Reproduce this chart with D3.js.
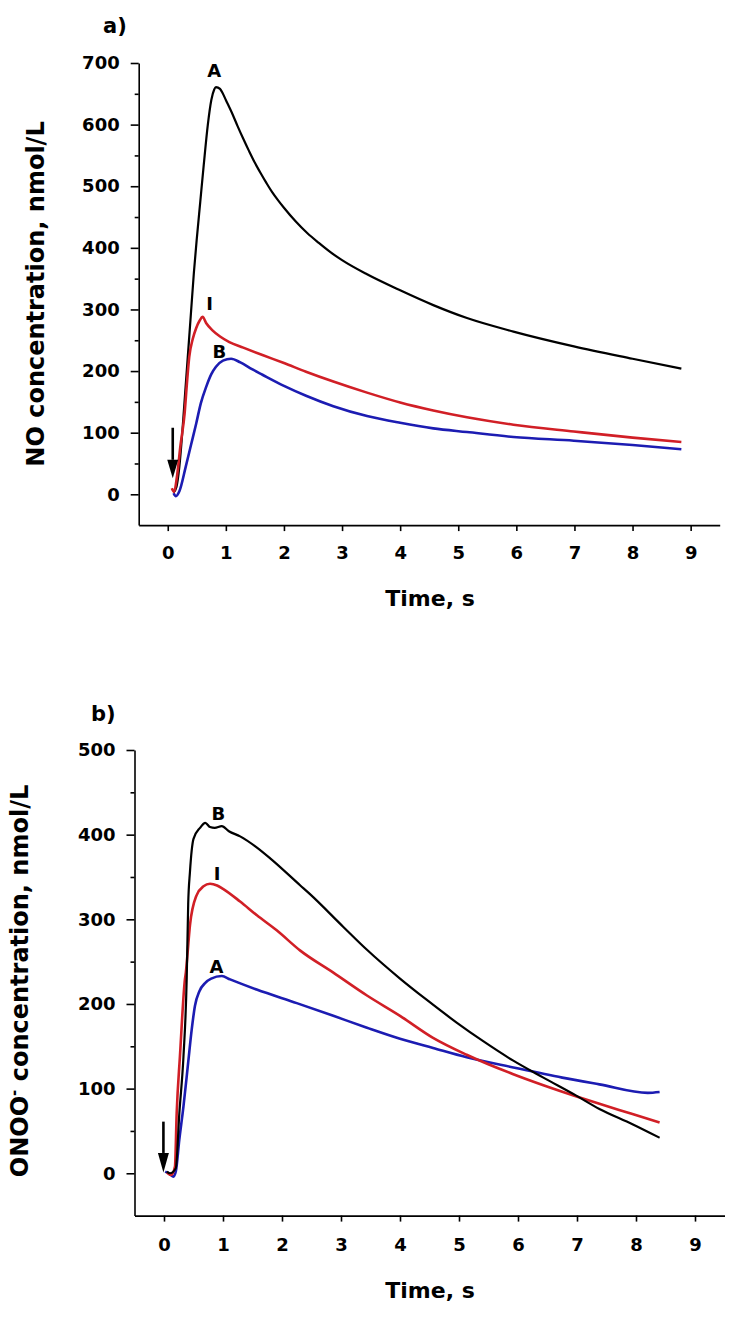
<!DOCTYPE html>
<html>
<head>
<meta charset="utf-8">
<script src="https://cdn.jsdelivr.net/npm/d3@7"></script>
<style>
  html, body { margin: 0; padding: 0; background: #fff; }
  svg { display: block; }
</style>
</head>
<body>
<svg id="chart" width="735" height="1324"></svg>
<script>
// ---------- data: panel a (NO) ----------
const timeTicks = [0, 1, 2, 3, 4, 5, 6, 7, 8, 9];
const noTicks = [0, 100, 200, 300, 400, 500, 600, 700];
const noMinorTicks = [50, 150, 250, 350, 450, 550, 650];

const noA_t = [0.10,0.15,0.20,0.25,0.30,0.35,0.40,0.45,0.50,0.56,0.62,0.69,0.75,0.80,0.83,0.90,0.95,1.00,1.10,1.20,1.30,1.40,1.50,1.60,1.70,1.80,1.90,2.00,2.20,2.40,2.60,2.80,3.00,3.43,4.00,4.57,5.15,5.95,6.99,8.00,8.84];
const noA_v = [3,12,45,100,165,230,295,360,415,475,535,600,640,657,661,658,650,640,620,598,577,557,538,521,505,490,477,465,443,424,408,393,380,357,331,307,286,264,240,220,204];

const noI_t = [0.07,0.11,0.16,0.22,0.29,0.33,0.37,0.43,0.49,0.55,0.60,0.66,0.77,0.90,1.06,1.30,1.63,2.00,2.38,2.85,3.43,4.00,4.57,5.15,5.95,6.99,8.00,8.84];
const noI_v = [10,4,30,80,131,180,223,252,270,282,288,278,266,256,247,238,226,213,199,183,165,149,136,125,113,102,92,85];

const noB_t = [0.10,0.14,0.20,0.31,0.40,0.49,0.57,0.66,0.75,0.83,0.95,1.09,1.25,1.45,1.63,2.00,2.38,2.85,3.43,4.00,4.57,5.15,5.95,6.99,8.00,8.84];
const noB_v = [2,-3,5,45,80,115,148,174,195,207,217,220,214,203,194,176,160,143,127,116,107,101,93,87,80,73];

// ---------- data: panel b (ONOO-) ----------
const onooTicks = [0, 100, 200, 300, 400, 500];
const onooMinorTicks = [50, 150, 250, 350, 450];

const onB_t = [0.05,0.10,0.20,0.26,0.33,0.385,0.41,0.44,0.50,0.61,0.70,0.78,0.86,0.98,1.10,1.29,1.57,1.80,2.31,2.47,3.04,3.44,4.00,4.45,4.96,5.41,5.92,6.43,6.98,7.38,7.94,8.40];
const onB_v = [2,0,6,71,138,230,318,356,395,408,414,409,408,410,404,398,385,372,340,330,291,264,230,205,178,156,133,113,92,76,58,42];

const onI_t = [0.05,0.12,0.186,0.215,0.27,0.356,0.37,0.41,0.44,0.55,0.67,0.78,0.90,1.00,1.29,1.57,1.91,2.31,2.87,3.44,4.00,4.56,5.13,5.92,6.43,6.98,7.38,7.94,8.40];
const onI_v = [1,-2,8,71,138,230,237,269,293,328,339,342,340,336,321,305,287,263,237,210,186,160,140,117,104,91,82,70,60];

const onA_t = [0.02,0.10,0.16,0.20,0.26,0.33,0.41,0.47,0.525,0.60,0.70,0.80,0.98,1.12,1.57,2.25,2.87,3.44,4.00,4.56,5.13,5.92,6.75,7.38,8.20,8.40];
const onA_v = [2,-1,-4,2,40,79,131,170,198,215,225,230,233,229,217,201,186,172,159,148,137,125,113,105,95,96];

// curve labels [text, t, value]
const noLabels = [["A", 0.80, 678], ["I", 0.72, 299], ["B", 0.89, 221]];
const onooLabels = [["B", 0.92, 417], ["I", 0.90, 346], ["A", 0.89, 236]];

// arrows marking injection [t, topValue, headStartValue, tipValue]
const noArrow = [0.086, 108, 56, 26];
const onooArrow = [-0.01, 61, 24, 1];

// ---------- drawing ----------
const svg = d3.select("#chart");
const FONT = "'DejaVu Sans', 'Liberation Sans', Arial, sans-serif";
const colors = { black: "#000000", red: "#d11f26", blue: "#1c1cb2" };

function zip(ts, vs) { return ts.map((t, i) => ({ t: t, v: vs[i] })); }

function panel(cfg) {
  const g = svg.append("g");
  const x = d3.scaleLinear().domain([-0.5, 9.5]).range(cfg.xRange);
  const y = d3.scaleLinear().domain(cfg.yDomain).range(cfg.yRange);

  // minor y ticks
  g.append("g")
    .attr("transform", `translate(${cfg.xRange[0]},0)`)
    .call(d3.axisLeft(y).tickValues(cfg.minor).tickSize(4).tickFormat("").tickSizeOuter(0))
    .call(s => s.select(".domain").remove())
    .call(s => s.selectAll("line").attr("stroke-width", 1.6));

  // major y axis
  g.append("g")
    .attr("transform", `translate(${cfg.xRange[0]},0)`)
    .call(d3.axisLeft(y).tickValues(cfg.yTicks).tickSize(8).tickPadding(11).tickSizeOuter(0).tickFormat(d3.format("d")))
    .call(s => s.select(".domain").attr("stroke-width", 1.6))
    .call(s => s.selectAll("line").attr("stroke-width", 1.6))
    .call(s => s.selectAll("text").attr("font-family", FONT).attr("font-size", 18).attr("font-weight", "bold").attr("fill", "#000"));

  // x axis
  g.append("g")
    .attr("transform", `translate(0,${cfg.yRange[0]})`)
    .call(d3.axisBottom(x).tickValues(timeTicks).tickSize(6).tickPadding(cfg.xPad).tickSizeOuter(0).tickFormat(d3.format("d")))
    .call(s => s.select(".domain").attr("stroke-width", 1.8))
    .call(s => s.selectAll("line").attr("stroke-width", 1.6))
    .call(s => s.selectAll("text").attr("font-family", FONT).attr("font-size", 18).attr("font-weight", "bold").attr("fill", "#000"));

  // series
  const line = d3.line().x(d => x(d.t)).y(d => y(d.v)).curve(d3.curveMonotoneX);
  cfg.series.forEach(s => {
    g.append("path")
      .datum(s.data)
      .attr("fill", "none")
      .attr("stroke", s.color)
      .attr("stroke-width", s.width)
      .attr("stroke-linejoin", "round")
      .attr("d", line);
  });

  // curve labels
  cfg.labels.forEach(l => {
    g.append("text")
      .attr("x", x(l[1])).attr("y", y(l[2]))
      .attr("text-anchor", "middle")
      .attr("font-family", FONT).attr("font-size", 18).attr("font-weight", "bold")
      .text(l[0]);
  });

  // arrow
  const a = cfg.arrow;
  const ax = x(a[0]);
  g.append("line")
    .attr("x1", ax).attr("x2", ax)
    .attr("y1", y(a[1])).attr("y2", y(a[2]))
    .attr("stroke", "#000").attr("stroke-width", 2.6);
  g.append("path")
    .attr("d", `M${ax - 5.5},${y(a[2])} L${ax + 5.5},${y(a[2])} L${ax},${y(a[3])} Z`)
    .attr("fill", "#000");

  // axis titles
  g.append("text")
    .attr("x", cfg.xTitlePos[0]).attr("y", cfg.xTitlePos[1])
    .attr("text-anchor", "middle")
    .attr("font-family", FONT).attr("font-size", 22).attr("font-weight", "bold")
    .text("Time, s");

  const yt = g.append("text")
    .attr("transform", `translate(${cfg.yTitlePos[0]},${cfg.yTitlePos[1]}) rotate(-90)`)
    .attr("text-anchor", "middle")
    .attr("font-family", FONT).attr("font-size", 24).attr("font-weight", "bold");
  cfg.yTitle(yt);

  // panel letter
  g.append("text")
    .attr("x", cfg.letterPos[0]).attr("y", cfg.letterPos[1])
    .attr("font-family", FONT).attr("font-size", 21).attr("font-weight", "bold")
    .text(cfg.letter);
}

panel({
  xRange: [138.7, 719.7],
  yDomain: [-50, 700],
  yRange: [525.1, 63],
  yTicks: noTicks,
  minor: noMinorTicks,
  xPad: 15,
  series: [
    { data: zip(noA_t, noA_v), color: colors.black, width: 2.2 },
    { data: zip(noB_t, noB_v), color: colors.blue, width: 2.6 },
    { data: zip(noI_t, noI_v), color: colors.red, width: 2.6 }
  ],
  labels: noLabels,
  arrow: noArrow,
  xTitlePos: [430, 606],
  yTitlePos: [44, 294],
  yTitle: t => t.text("NO concentration, nmol/L"),
  letter: "a)",
  letterPos: [103, 33]
});

panel({
  xRange: [134.5, 724.5],
  yDomain: [-50, 500],
  yRange: [1215.6, 750],
  yTicks: onooTicks,
  minor: onooMinorTicks,
  xPad: 17,
  series: [
    { data: zip(onA_t, onA_v), color: colors.blue, width: 2.6 },
    { data: zip(onI_t, onI_v), color: colors.red, width: 2.6 },
    { data: zip(onB_t, onB_v), color: colors.black, width: 2.2 }
  ],
  labels: onooLabels,
  arrow: onooArrow,
  xTitlePos: [430, 1298],
  yTitlePos: [28, 981],
  yTitle: t => {
    t.append("tspan").text("ONOO");
    t.append("tspan").attr("baseline-shift", "super").attr("font-size", 15).text("-");
    t.append("tspan").text(" concentration, nmol/L");
  },
  letter: "b)",
  letterPos: [91, 721]
});
</script>
</body>
</html>
